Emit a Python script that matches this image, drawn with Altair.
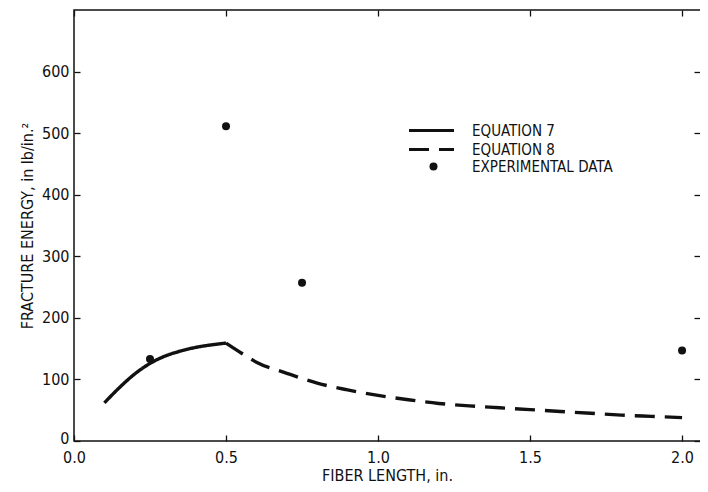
import altair as alt
import pandas as pd

FONT = "Liberation Sans Narrow, DejaVu Sans Condensed, Arial Narrow, sans-serif"

# Equation 7 (solid)
eq7_x = [0.10, 0.15, 0.20, 0.25, 0.30, 0.35, 0.40, 0.45, 0.50]
eq7_y = [62, 87, 109, 126, 138, 146, 152, 156, 159]
# Equation 8 (dashed)
eq8_x = [0.50, 0.55, 0.60, 0.70, 0.80, 0.90, 1.00, 1.10, 1.20, 1.30, 1.40, 1.50, 1.60, 1.70, 1.80, 1.90, 2.00]
eq8_y = [159, 143, 128, 110, 94, 83, 74, 67, 61, 57, 54, 51, 48, 45, 42, 40, 38]
# Experimental data
exp_x = [0.25, 0.50, 0.75, 2.00]
exp_y = [133, 511, 257, 147]

series_names = ["EQUATION 7", "EQUATION 8", "EXPERIMENTAL DATA"]
x_ticks = [0.0, 0.5, 1.0, 1.5, 2.0]
y_ticks = [0, 100, 200, 300, 400, 500, 600]

lines_df = pd.concat([
    pd.DataFrame({"x": eq7_x, "y": eq7_y, "series": series_names[0]}),
    pd.DataFrame({"x": eq8_x, "y": eq8_y, "series": series_names[1]}),
])
pts_df = pd.DataFrame({"x": exp_x, "y": exp_y, "series": series_names[2]})

W, H = 626, 431
xscale = alt.Scale(domain=[0, 2.059], nice=False, zero=False)
yscale = alt.Scale(domain=[0, 700], nice=False)

common_axis = dict(domain=False, tickSize=6, offset=-6, tickColor="#111", tickWidth=1.3,
                   labelFont=FONT, labelFontSize=16, labelColor="#111", labelFlush=False,
                   titleFont=FONT, titleFontSize=16, titleFontWeight="normal", titleColor="#111",
                   grid=False)

legend_common = dict(title=None, orient="none", padding=0, labelFont=FONT, labelFontSize=15,
                     labelColor="#111", rowPadding=3)

lines = alt.Chart(lines_df).mark_line(color="#111", strokeWidth=3.4, interpolate="monotone").encode(
    x=alt.X("x:Q", scale=xscale,
            axis=alt.Axis(orient="bottom", values=x_ticks, format=".1f", labelPadding=8,
                          title="FIBER LENGTH,  in.", titlePadding=2, **common_axis)),
    y=alt.Y("y:Q", scale=yscale,
            axis=alt.Axis(orient="left", values=y_ticks, labelPadding=5,
                          labelOffset={"condition": {"test": "datum.value === 0", "value": -3}, "value": 0},
                          title="FRACTURE ENERGY,  in lb/in.²", titlePadding=6, **common_axis)),
    strokeDash=alt.StrokeDash("series:N",
        scale=alt.Scale(domain=series_names[:2], range=[[1, 0], [20, 10]]),
        legend=alt.Legend(legendX=350, legendY=113, symbolType="M-5,0H5", symbolSize=81,
                          symbolStrokeWidth=3, symbolStrokeColor="#111", symbolFillColor="transparent",
                          labelOffset=33, **legend_common)),
    order="x:Q",
)

points = alt.Chart(pts_df).mark_point(filled=True, color="#111", size=64, opacity=1).encode(
    x=alt.X("x:Q", scale=xscale,
            axis=alt.Axis(orient="top", values=x_ticks, labels=False, title=None, **common_axis)),
    y=alt.Y("y:Q", scale=yscale,
            axis=alt.Axis(orient="right", values=y_ticks, labels=False, title=None, **common_axis)),
    shape=alt.Shape("series:N", scale=alt.Scale(domain=series_names[2:], range=["circle"]),
        legend=alt.Legend(legendX=352, legendY=149, symbolSize=64, symbolFillColor="#111",
                          symbolStrokeColor="#111", labelOffset=31, **legend_common)),
)

chart = alt.layer(lines, points).resolve_axis(x="independent", y="independent").properties(
    width=W, height=H,
    autosize=alt.AutoSizeParams(type="none"),
    padding={"left": 66, "top": 2, "right": 0, "bottom": 43},
    background="white",
).configure_view(stroke="#111", strokeWidth=1.5, strokeDash=[W, H, W + H + 4, 1])

chart.save("out.html", embed_options={"renderer": "svg", "actions": False})
